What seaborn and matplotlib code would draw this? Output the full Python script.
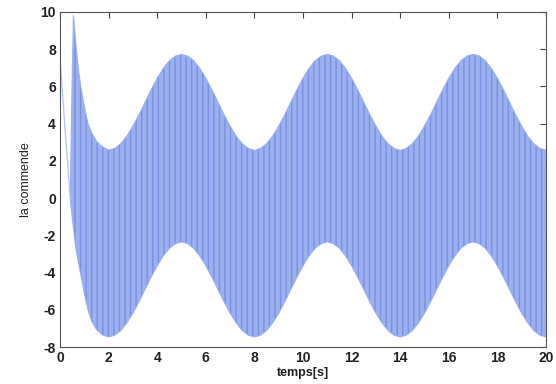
import numpy as np
import pandas as pd
import matplotlib
matplotlib.use("Agg")
import matplotlib.pyplot as plt
import seaborn as sns

# initial transient (thin line before the oscillation starts)
t_start = [0.0, 0.2, 0.42]
u_start = [7.5, 3.8, 0.0]

# envelope of the fast oscillation
t_early = [0.42, 0.48, 0.55, 0.65, 0.75, 0.85, 1.0, 1.15, 1.3, 1.5, 1.75, 2.0]
upper_early = [0.0, 5.0, 9.8, 8.3, 7.0, 6.0, 4.9, 4.0, 3.5, 3.05, 2.75, 2.58]
lower_early = [0.0, -0.8, -1.6, -2.7, -3.4, -4.1, -5.1, -6.0, -6.6, -7.05, -7.35, -7.45]

t_rest = np.linspace(2.25, 20.0, 72)
upper_rest = [
    2.67, 2.92, 3.33, 3.87, 4.48, 5.15, 5.82, 6.44, 6.97, 7.38, 7.63, 7.72,
    7.63, 7.38, 6.97, 6.44, 5.82, 5.15, 4.48, 3.87, 3.33, 2.92, 2.67, 2.56,
    2.67, 2.92, 3.33, 3.87, 4.48, 5.15, 5.82, 6.44, 6.97, 7.38, 7.63, 7.72,
    7.63, 7.38, 6.97, 6.44, 5.82, 5.15, 4.48, 3.87, 3.33, 2.92, 2.67, 2.56,
    2.67, 2.92, 3.33, 3.87, 4.48, 5.15, 5.82, 6.44, 6.97, 7.38, 7.63, 7.72,
    7.63, 7.38, 6.97, 6.44, 5.82, 5.15, 4.48, 3.87, 3.33, 2.92, 2.67, 2.58,
]
lower_rest = [
    -7.36, -7.11, -6.70, -6.18, -5.56, -4.90, -4.24, -3.63, -3.10, -2.69, -2.44, -2.35,
    -2.44, -2.69, -3.10, -3.63, -4.24, -4.90, -5.56, -6.18, -6.70, -7.11, -7.36, -7.45,
    -7.36, -7.11, -6.70, -6.18, -5.56, -4.90, -4.24, -3.63, -3.10, -2.69, -2.44, -2.35,
    -2.44, -2.69, -3.10, -3.63, -4.24, -4.90, -5.56, -6.18, -6.70, -7.11, -7.36, -7.45,
    -7.36, -7.11, -6.70, -6.18, -5.56, -4.90, -4.24, -3.63, -3.10, -2.69, -2.44, -2.35,
    -2.44, -2.69, -3.10, -3.63, -4.24, -4.90, -5.56, -6.18, -6.70, -7.11, -7.36, -7.45,
]

x_ticks = [0, 2, 4, 6, 8, 10, 12, 14, 16, 18, 20]
y_ticks = [-8, -6, -4, -2, 0, 2, 4, 6, 8, 10]

env = pd.DataFrame({
    "t": np.concatenate([t_early, t_rest]),
    "upper": np.concatenate([upper_early, upper_rest]),
    "lower": np.concatenate([lower_early, lower_rest]),
})

sns.set_style("white")
plt.rcParams["font.family"] = ["Liberation Sans", "DejaVu Sans"]
plt.rcParams["hatch.linewidth"] = 1.0

fig = plt.figure(figsize=(5.56, 3.84), dpi=100)
ax = fig.add_axes([0.108, 0.096, 0.874, 0.873])

light = "#9cb0f0"
dark = "#7a90e0"

ax.fill_between(env["t"], env["lower"], env["upper"], facecolor=light,
                edgecolor=dark, hatch="|||", linewidth=0)
sns.lineplot(x=env["t"], y=env["upper"], ax=ax, color=light, lw=0.8)
sns.lineplot(x=env["t"], y=env["lower"], ax=ax, color=light, lw=0.8)
sns.lineplot(x=t_start, y=u_start, ax=ax, color="#b3c2f2", lw=0.9)

ax.set_xlim(0, 20)
ax.set_ylim(-8, 10)
ax.set_xticks(x_ticks)
ax.set_yticks(y_ticks)
ax.set_xticklabels([str(v) for v in x_ticks], fontsize=10, fontweight="bold", color="#222222")
ax.set_yticklabels([str(v) for v in y_ticks], fontsize=10, fontweight="bold", color="#222222")
ax.tick_params(direction="in", length=4, width=0.8, top=True, right=True,
               color="#444444", pad=3)
for s in ax.spines.values():
    s.set_visible(True)
    s.set_color("#555555")
    s.set_linewidth(0.8)

ax.set_xlabel("temps[s]", fontsize=9, fontweight="bold", labelpad=1, color="#222222")
ax.set_ylabel("la commende", fontsize=9, labelpad=6, color="#222222")

fig.savefig("out.png", dpi=100)
